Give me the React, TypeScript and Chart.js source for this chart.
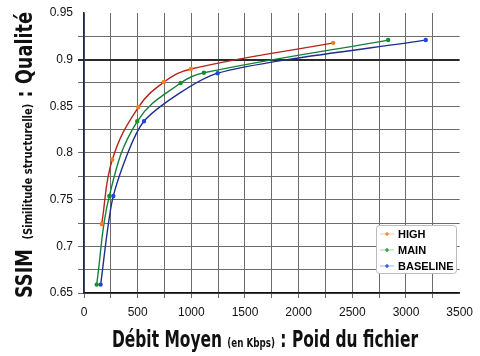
import React, { useEffect, useRef } from 'react';
import { Chart, registerables } from 'chart.js';

Chart.register(...registerables);

const seriesNames = ['HIGH', 'MAIN', 'BASELINE'];
const highX = [165, 264, 506, 745, 996, 2322];
const highY = [0.724, 0.793, 0.849, 0.876, 0.89, 0.918];
const mainX = [118, 236, 496, 900, 1117, 2834];
const mainY = [0.659, 0.754, 0.834, 0.875, 0.886, 0.921];
const baseX = [155, 273, 559, 1245, 3184];
const baseY = [0.659, 0.754, 0.834, 0.8855, 0.921];

const lineColors = ['#b3261a', '#16803a', '#1c2f8a'];
const pointColors = ['#ff7a1a', '#129030', '#1f45e6'];
const legendLineColors = ['#f9cdb0', '#acdcb0', '#aebcf2'];
const tensions = [0.4, 0.4, 0.22];

const xMin = 0, xMax = 3500, xStep = 250, xLabelStep = 500;
const yMin = 0.65, yMax = 0.95, yStep = 0.025, yLabelStep = 0.05;
const highlightY = 0.9;

const xTitle = [
  { t: 'Débit Moyen ', big: true },
  { t: '(en Kbps)', big: false },
  { t: ' : Poid du fichier', big: true },
];
const yTitle = [
  { t: 'SSIM ', big: true },
  { t: ' (Similitude structurelle)', big: false },
  { t: ' : Qualité', big: true },
];

const TITLE_FONT = '"DejaVu Sans Condensed", "DejaVu Sans", sans-serif';

function toPts(xs: number[], ys: number[]) {
  return xs.map((x, i) => ({ x, y: ys[i] }));
}

function near(v: number, t: number) {
  return Math.abs(v - t) < 1e-6;
}

function drawRun(ctx: CanvasRenderingContext2D, parts: { t: string; big: boolean }[], big: string, small: string, targetW: number) {
  let total = 0;
  for (const p of parts) {
    ctx.font = p.big ? big : small;
    total += ctx.measureText(p.t).width;
  }
  const k = targetW / total;
  ctx.scale(k, 1);
  let x = 0;
  for (const p of parts) {
    ctx.font = p.big ? big : small;
    ctx.fillText(p.t, x, 0);
    x += ctx.measureText(p.t).width;
  }
}

const overlayPlugin = {
  id: 'overlay',
  afterDraw(chart: any) {
    const ctx = chart.ctx as CanvasRenderingContext2D;
    // x title
    ctx.save();
    ctx.fillStyle = '#111';
    ctx.textBaseline = 'alphabetic';
    ctx.translate(112, 347);
    drawRun(ctx, xTitle, 'bold 23px ' + TITLE_FONT, 'bold 13px ' + TITLE_FONT, 306);
    ctx.restore();

    // y title
    ctx.save();
    ctx.fillStyle = '#111';
    ctx.textBaseline = 'alphabetic';
    ctx.translate(32, 298);
    ctx.rotate(-Math.PI / 2);
    drawRun(ctx, yTitle, 'bold 23px ' + TITLE_FONT, 'bold 13px ' + TITLE_FONT, 286);
    ctx.restore();

    // legend
    ctx.save();
    const lx = 376, ly = 225, lw = 80, lh = 48;
    ctx.fillStyle = '#ffffff';
    ctx.strokeStyle = '#bbbbbb';
    ctx.lineWidth = 1;
    ctx.beginPath();
    ctx.roundRect(lx + 0.5, ly + 0.5, lw, lh, 3);
    ctx.fill();
    ctx.stroke();
    ctx.font = 'bold 11px "Liberation Sans", Arial, sans-serif';
    ctx.textBaseline = 'middle';
    seriesNames.forEach((name, i) => {
      const cy = ly + 9 + i * 16;
      ctx.strokeStyle = legendLineColors[i];
      ctx.lineWidth = 1.2;
      ctx.beginPath();
      ctx.moveTo(380, cy);
      ctx.lineTo(394, cy);
      ctx.stroke();
      ctx.strokeStyle = pointColors[i];
      ctx.lineWidth = 1.2;
      ctx.beginPath();
      ctx.moveTo(385, cy);
      ctx.lineTo(389, cy);
      ctx.moveTo(387, cy - 2);
      ctx.lineTo(387, cy + 2);
      ctx.stroke();
      ctx.fillStyle = '#000';
      ctx.fillText(name, 398, cy + 0.5);
    });
    ctx.restore();
  },
};

export default function App() {
  const ref = useRef<HTMLCanvasElement | null>(null);
  useEffect(() => {
    document.body.style.margin = '0';
    const xsList = [highX, mainX, baseX];
    const ysList = [highY, mainY, baseY];
    const chart = new Chart(ref.current as HTMLCanvasElement, {
      type: 'line',
      data: {
        datasets: seriesNames.map((name, i) => ({
          label: name,
          data: toPts(xsList[i], ysList[i]),
          borderColor: lineColors[i],
          backgroundColor: pointColors[i],
          pointBackgroundColor: pointColors[i],
          pointBorderColor: pointColors[i],
          borderWidth: 1.4,
          pointRadius: 1.5,
          pointStyle: 'circle',
          tension: tensions[i],
          fill: false,
        })),
      },
      options: {
        animation: false,
        responsive: false,
        maintainAspectRatio: false,
        layout: { padding: { top: 13, right: 20, left: 0, bottom: 0 } },
        plugins: {
          legend: { display: false },
          tooltip: { enabled: false },
        },
        scales: {
          x: {
            type: 'linear',
            min: xMin,
            max: xMax,
            afterFit: (s: any) => { s.height = 63; },
            border: { color: '#111', width: 1.5 },
            grid: {
              color: (c: any) => (c.tick && near(c.tick.value, xMax) ? 'rgba(0,0,0,0)' : '#6b6b6b'),
              lineWidth: 1,
              tickLength: 5,
            },
            ticks: {
              stepSize: xStep,
              autoSkip: false,
              maxRotation: 0,
              padding: 7,
              color: '#111',
              font: { family: '"Liberation Sans", Arial, sans-serif', size: 12 },
              callback: (v: any) => (Math.round(v) % xLabelStep === 0 ? String(v) : ''),
            },
          },
          y: {
            type: 'linear',
            min: yMin,
            max: yMax,
            afterFit: (s: any) => { s.width = 84; },
            border: { color: '#1b2850', width: 1.5 },
            grid: {
              color: (c: any) => {
                const v = c.tick ? c.tick.value : 0;
                if (near(v, yMax)) return 'rgba(0,0,0,0)';
                if (near(v, highlightY)) return '#2a2a2a';
                return '#6b6b6b';
              },
              lineWidth: (c: any) => (c.tick && near(c.tick.value, highlightY) ? 2 : 1),
              tickLength: 6,
            },
            ticks: {
              stepSize: yStep,
              autoSkip: false,
              padding: 5,
              color: '#111',
              font: { family: '"Liberation Sans", Arial, sans-serif', size: 12 },
              callback: (v: any) => {
                const k = Math.round(v * 1000);
                return k % Math.round(yLabelStep * 1000) === 0 ? String(+(+v).toFixed(3)) : '';
              },
            },
          },
        },
      },
      plugins: [overlayPlugin],
    });
    return () => chart.destroy();
  }, []);
  return (
    <div style={{ width: 480, height: 356 }}>
      <canvas ref={ref} width={480} height={356} style={{ display: 'block' }} />
    </div>
  );
}
